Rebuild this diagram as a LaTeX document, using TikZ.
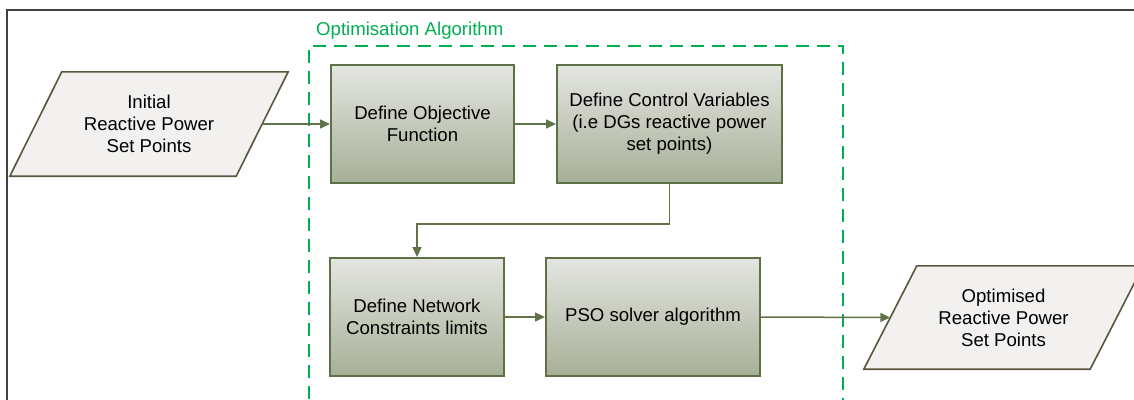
\documentclass[tikz,border=0pt]{standalone}
\usepackage{fontspec}
\setmainfont{Liberation Sans}
\usetikzlibrary{arrows.meta,calc,backgrounds}
\definecolor{framegray}{HTML}{404040}
\definecolor{optgreen}{HTML}{00B050}
\definecolor{boxedge}{HTML}{5E7046}
\definecolor{boxtop}{HTML}{E4E6E1}
\definecolor{boxbottom}{HTML}{A7AF97}
\definecolor{flowline}{HTML}{5F7346}
\definecolor{iofill}{HTML}{F2F1EF}
\definecolor{ioedge}{HTML}{5B5540}
\tikzset{
  x=1pt, y=-1pt,
  txt/.style={font=\fontsize{18.6}{22}\selectfont, align=center, text=black},
  stepbox/.style={txt, rectangle, draw=boxedge, line width=2pt,
    top color=boxtop, bottom color=boxbottom, inner sep=0pt, minimum height=118pt},
  iobox/.style={txt, rectangle, inner sep=0pt, minimum width=226pt, minimum height=104pt},
  ioshape/.style={draw=ioedge, line width=1.6pt, fill=iofill, line join=miter},
  flow/.style={draw=flowline, line width=1.5pt, -{Triangle[length=10pt,width=9pt]}},
}
% slanted data box drawn around a named node (#1), offset #2 of each slanted side
\newcommand{\databox}[2]{%
  \begin{pgfonlayer}{background}
    \draw[ioshape]
      ($(#1.south west)+(-#2,0)$) -- ($(#1.north west)+(#2,0)$) --
      ($(#1.north east)+(#2,0)$) -- ($(#1.south east)+(-#2,0)$) -- cycle;
  \end{pgfonlayer}}
\begin{document}
\begin{tikzpicture}
\useasboundingbox (0,0) rectangle (1134,399);
\clip (0,0) rectangle (1134,399);

% outer frame
\draw[framegray, line width=2pt] (1140,10) -- (7,10) -- (7,410);

% optimisation group
\draw[optgreen, line width=2.5pt, dash pattern=on 13pt off 8pt]
  (309,420) -- (309,46) -- (843,46) -- (843,420);
\node[anchor=base west, inner sep=0pt, text=optgreen, font=\fontsize{18.6}{22}\selectfont]
  (grouptitle) at (316,35) {Optimisation Algorithm};

% input / output
\node[iobox] (in) at (149,124) {Initial\\Reactive Power\\Set Points};
\databox{in}{26}
\node[iobox, minimum height=103pt] (out) at (1003.5,317.5) {Optimised\\Reactive Power\\Set Points};
\databox{out}{26.5}

% process steps
\node[stepbox, minimum width=183pt] (obj) at (422.5,124) {Define Objective\\Function};
\node[stepbox, minimum width=225pt] (ctrl) at (669.5,124) {Define Control Variables\\(i.e DGs reactive power\\set points)};
\node[stepbox, minimum width=174pt] (cons) at (417,317) {Define Network\\Constraints limits};
\node[stepbox, minimum width=214pt] (pso) at (653,317) {PSO solver algorithm};

% connectors
\draw[flow] (in.east) -- (obj.west);
\draw[flow] (obj.east) -- (ctrl.west);
\draw[flow] (ctrl.south) -- ++(0,40) -| (cons.north);
\draw[flow] (cons.east) -- (pso.west);
\draw[flow] (pso.east) -- (out.west);
\end{tikzpicture}
\end{document}
